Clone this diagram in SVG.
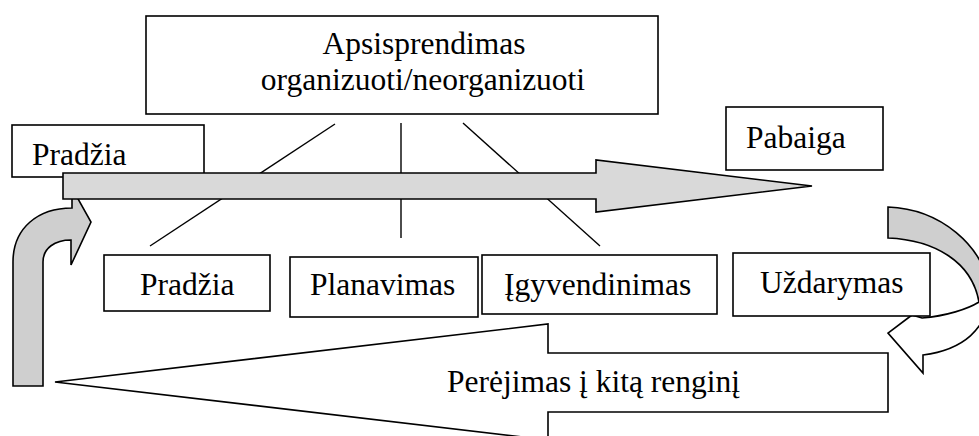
<svg xmlns="http://www.w3.org/2000/svg" width="979" height="436" viewBox="0 0 979 436">
<style>
.box{fill:#ffffff;stroke:#000000;stroke-width:1.6}
.lbl{font-family:"Liberation Serif","Times New Roman",serif;font-size:31.5px;fill:#000000}
.ln{stroke:#000000;stroke-width:1.4;fill:none}
.arr{stroke:#000000;stroke-width:1.6;stroke-linejoin:miter}
.g1{fill:#d9d9d9}
.g2{fill:#cfcfcf}
.w{fill:#ffffff}
</style>
<rect width="979" height="436" fill="#ffffff"/>
<g id="connectors">
<line class="ln" x1="335" y1="124" x2="150" y2="246"/>
<line class="ln" x1="401" y1="123" x2="401" y2="238"/>
<line class="ln" x1="463" y1="123" x2="600" y2="246"/>
</g>
<g id="node-apsisprendimas">
<rect class="box" x="146" y="16" width="512" height="98"/>
<text class="lbl" x="424" y="54" text-anchor="middle">Apsisprendimas</text>
<text class="lbl" x="423" y="90" text-anchor="middle">organizuoti/neorganizuoti</text>
</g>
<g id="node-pradzia-top">
<rect class="box" x="12" y="125" width="192" height="52"/>
<text class="lbl" x="32" y="165">Pradžia</text>
</g>
<g id="node-pabaiga">
<rect class="box" x="726" y="107" width="157" height="63"/>
<text class="lbl" x="746" y="148">Pabaiga</text>
</g>
<g id="arrow-return-left">
<path class="arr g2" d="M13 386 L13 262 C13 228 38 208 72 208 L72 188 L91 222 L71 265 L71 240 C55 240 43 248 43 262 L43 386 Z"/>
</g>
<g id="arrow-main">
<path class="arr g1" d="M63 173 L596 173 L596 160 L812 186 L596 212 L596 199 L63 199 Z"/>
</g>
<g id="arrow-curved-right">
<path class="arr g2" d="M888 207 C940 209 984 245 990 292 L979 302 C972 262 935 240 888 238 Z"/>
<path class="arr w" d="M990 292 C988 330 962 350 923 355 L923 373 L888 333 L912 315 L922 318 C946 316 968 309 979 302 Z"/>
</g>
<g id="node-perejimas">
<path class="arr w" d="M55 382 L548 324 L548 353 L888 353 L888 412 L548 412 L548 440 Z"/>
<text class="lbl" x="447" y="392">Perėjimas į kitą renginį</text>
</g>
<g id="node-pradzia">
<rect class="box" x="104" y="255" width="166" height="56"/>
<text class="lbl" x="140" y="295">Pradžia</text>
</g>
<g id="node-planavimas">
<rect class="box" x="290" y="257" width="188" height="60"/>
<text class="lbl" x="310" y="295">Planavimas</text>
</g>
<g id="node-igyvendinimas">
<rect class="box" x="482" y="255" width="235" height="59"/>
<text class="lbl" x="504" y="295">Įgyvendinimas</text>
</g>
<g id="node-uzdarymas">
<rect class="box" x="733" y="253" width="197" height="63"/>
<text class="lbl" x="760" y="293">Uždarymas</text>
</g>
</svg>
